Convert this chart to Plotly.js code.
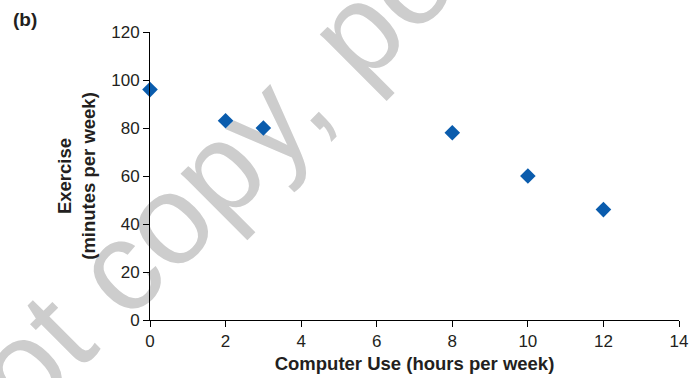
<!DOCTYPE html>
<html>
<head>
<meta charset="utf-8">
<script src="https://cdn.plot.ly/plotly-3.0.1.min.js"></script>
<style>
  html, body { margin: 0; padding: 0; background: #ffffff; }
  #wrap { position: relative; width: 689px; height: 378px; overflow: hidden; }
  #wm { position: absolute; left: 0; top: 0; z-index: 0; }
  #chart { position: absolute; left: 0; top: 0; width: 689px; height: 378px; z-index: 1; }
</style>
</head>
<body>
<div id="wrap">
  <svg id="wm" width="689" height="378" xmlns="http://www.w3.org/2000/svg">
    <g transform="translate(127,323) rotate(-45)" font-family="Liberation Sans, Arial, sans-serif" font-size="128" fill="#cdcdcd">
      <text x="-36" y="0" text-anchor="end">Do not</text>
      <text x="0" y="0">copy, post, or distribute</text>
    </g>
  </svg>
  <div id="chart"></div>
</div>
<script>
// Data
const computerUse = [0, 2, 3, 8, 10, 12];       // hours per week
const exercise    = [96, 83, 80, 78, 60, 46];   // minutes per week
const xTickVals = [0, 2, 4, 6, 8, 10, 12, 14];
const yTickVals = [0, 20, 40, 60, 80, 100, 120];

const FONT = 'Liberation Sans, Arial, Helvetica, sans-serif';
const TXT = '#231f20';

const trace = {
  x: computerUse,
  y: exercise,
  type: 'scatter',
  mode: 'markers',
  marker: { symbol: 'diamond', size: 12, color: '#0a5cad', line: { width: 0 } },
  cliponaxis: false,
  hoverinfo: 'skip'
};

const layout = {
  width: 689,
  height: 378,
  margin: { l: 150, r: 10, t: 32, b: 58 },
  paper_bgcolor: 'rgba(0,0,0,0)',
  plot_bgcolor: 'rgba(0,0,0,0)',
  showlegend: false,
  font: { family: FONT, color: TXT, size: 17 },
  xaxis: {
    range: [0, 14],
    tickvals: xTickVals,
    ticktext: xTickVals.map(String),
    showgrid: false,
    zeroline: false,
    showline: true,
    linecolor: '#000000',
    linewidth: 1,
    ticks: 'outside',
    ticklen: 6,
    tickwidth: 1,
    tickcolor: '#000000',
    tickfont: { family: FONT, size: 17, color: TXT },
    title: { text: '<b>Computer Use (hours per week)</b>', font: { family: FONT, size: 18.5, color: TXT }, standoff: 6 }
  },
  yaxis: {
    range: [0, 120],
    tickvals: yTickVals,
    ticktext: yTickVals.map(String),
    showgrid: false,
    zeroline: false,
    showline: true,
    linecolor: '#000000',
    linewidth: 1,
    ticks: 'outside',
    ticklen: 6,
    tickwidth: 1,
    tickcolor: '#000000',
    tickfont: { family: FONT, size: 17, color: TXT },
    title: { text: '<b>Exercise<br>(minutes per week)</b>', font: { family: FONT, size: 18.5, color: TXT }, standoff: 10 }
  },
  annotations: [{
    text: '<b>(b)</b>',
    xref: 'paper', yref: 'paper',
    x: (11 - 150) / 529, y: (320 - 20) / 288,
    xanchor: 'left', yanchor: 'middle',
    showarrow: false,
    font: { family: FONT, size: 19, color: TXT }
  }]
};

Plotly.newPlot('chart', [trace], layout, { displayModeBar: false, staticPlot: true });
</script>
</body>
</html>
